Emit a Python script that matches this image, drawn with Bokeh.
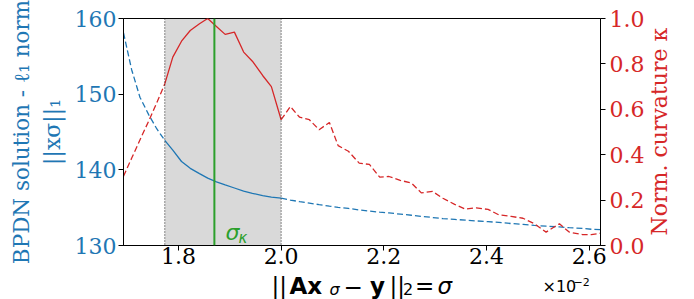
import numpy as np
from bokeh.plotting import figure
from bokeh.layouts import row, column
from bokeh.models import (Range1d, LinearAxis, FixedTicker, PrintfTickFormatter,
                          BoxAnnotation, Span, Label)
from bokeh.embed import file_html
from bokeh.resources import INLINE

# ---- data (sigma in units of 1e-2) ----
sigma = [1.693, 1.709, 1.725, 1.742, 1.758, 1.7734, 1.789, 1.806, 1.823, 1.841,
         1.857, 1.874, 1.891, 1.909, 1.927, 1.944, 1.964, 1.981, 2.000, 2.018,
         2.036, 2.055, 2.074, 2.094, 2.111, 2.131, 2.152, 2.172, 2.192, 2.210,
         2.232, 2.254, 2.273, 2.295, 2.315, 2.338, 2.359, 2.380, 2.403, 2.424,
         2.448, 2.471, 2.493, 2.516, 2.542, 2.561, 2.587, 2.604, 2.622]
norm1 = [158.1, 153.2, 149.6, 147.3, 145.4, 143.9, 142.6, 141.1, 140.2, 139.5,
         138.9, 138.4, 138.0, 137.6, 137.2, 136.9, 136.6, 136.4, 136.25, 136.0,
         135.8, 135.6, 135.4, 135.2, 135.05, 134.9, 134.7, 134.55, 134.4, 134.3,
         134.15, 134.0, 133.85, 133.7, 133.55, 133.45, 133.35, 133.25, 133.15, 133.05,
         132.9, 132.8, 132.65, 132.55, 132.45, 132.35, 132.25, 132.15, 132.1]
kappa = [0.305, 0.385, 0.465, 0.548, 0.630, 0.712, 0.830, 0.900, 0.947, 0.977,
         1.000, 0.965, 0.930, 0.940, 0.852, 0.812, 0.749, 0.700, 0.554, 0.612,
         0.565, 0.554, 0.510, 0.542, 0.440, 0.415, 0.363, 0.357, 0.301, 0.304,
         0.287, 0.275, 0.232, 0.238, 0.208, 0.181, 0.160, 0.166, 0.159, 0.135,
         0.128, 0.120, 0.096, 0.059, 0.096, 0.059, 0.048, 0.048, 0.054]
region = [1.7734, 2.000]
sigma_k = 1.87
x_ticks = [1.8, 2.0, 2.2, 2.4, 2.6]
left_ticks = [130, 140, 150, 160]
right_ticks = [0.0, 0.2, 0.4, 0.6, 0.8, 1.0]
left_range = [130, 160]
right_range = [0.0, 1.0]

BLUE = "#1f77b4"
RED = "#d62728"
GREEN = "#2ca02c"
SERIF = "DejaVu Serif"

W_MAIN, W_RIGHT = 647, 47
H_MAIN, H_BOTTOM = 273, 26

# ---------------- main plot ----------------
p = figure(width=W_MAIN, height=H_MAIN, title=None,
           x_range=Range1d(sigma[0], sigma[-1]),
           y_range=Range1d(left_range[0], left_range[1]),
           output_backend="svg", toolbar_location=None,
           min_border_left=123, min_border_right=46,
           min_border_top=18, min_border_bottom=28)
p.extra_y_ranges = {"kappa": Range1d(right_range[0], right_range[1])}
p.grid.visible = False
p.outline_line_color = "black"
p.outline_line_width = 1
p.background_fill_color = "white"
p.border_fill_color = "white"

right_axis = LinearAxis(y_range_name="kappa")
p.add_layout(right_axis, "right")

p.xaxis.ticker = FixedTicker(ticks=x_ticks)
p.xaxis.formatter = PrintfTickFormatter(format="%.1f")
p.yaxis[0].ticker = FixedTicker(ticks=left_ticks)
right_axis.ticker = FixedTicker(ticks=right_ticks)
right_axis.formatter = PrintfTickFormatter(format="%.1f")

for ax in [p.xaxis[0], p.yaxis[0], right_axis]:
    ax.major_tick_in = 0
    ax.major_tick_out = 5
    ax.minor_tick_line_color = None
    ax.axis_line_color = "black"
    ax.major_tick_line_color = "black"
    ax.major_label_text_font = SERIF
    ax.major_label_text_font_size = "22px"
p.xaxis[0].major_label_standoff = -3
p.xaxis[0].major_label_text_color = "black"
p.yaxis[0].major_label_standoff = 2
p.yaxis[0].major_label_text_color = BLUE
right_axis.major_label_standoff = 4
right_axis.major_label_text_color = RED

# left axis titles: inner line on the tick axis, outer line on a bare axis
p.yaxis[0].axis_label = "||xσ||₁"
p.yaxis[0].axis_label_text_font = SERIF
p.yaxis[0].axis_label_text_font_size = "22px"
p.yaxis[0].axis_label_text_font_style = "normal"
p.yaxis[0].axis_label_text_color = BLUE
p.yaxis[0].axis_label_standoff = 7

outer = LinearAxis(ticker=FixedTicker(ticks=[]), axis_line_color=None,
                   major_tick_line_color=None, minor_tick_line_color=None,
                   major_tick_in=0, major_tick_out=0, major_label_standoff=0,
                   axis_label="BPDN solution - ℓ₁ norm", axis_label_standoff=3,
                   axis_label_text_font=SERIF, axis_label_text_font_size="21.5px",
                   axis_label_text_font_style="normal", axis_label_text_color=BLUE)
p.add_layout(outer, "left")

# shaded region
p.add_layout(BoxAnnotation(left=region[0], right=region[1], fill_color="gray",
                           fill_alpha=0.3, line_alpha=0, level="underlay"))
for r in region:
    p.add_layout(Span(location=r, dimension="height", line_color="#222222",
                      line_width=1, line_dash="1 2"))

s = np.array(sigma)
n = np.array(norm1)
k = np.array(kappa)
before = s <= region[0]
inside = (s >= region[0]) & (s <= region[1])
after = s >= region[1]
segs = [(before, "6 3"), (inside, "solid"), (after, "6 3")]
for mask, dash in segs:
    p.line(s[mask], n[mask], line_color=BLUE, line_width=1.3, line_dash=dash)
for mask, dash in segs:
    p.line(s[mask], k[mask], y_range_name="kappa", line_color=RED,
           line_width=1.3, line_dash=dash)

p.add_layout(Span(location=sigma_k, dimension="height", line_color=GREEN,
                  line_width=2))

# sigma_kappa marker text
for txt, dx, dy, sz in [("σ", 11, 12.7, 22), ("κ", 24, 7.8, 15)]:
    p.add_layout(Label(x=sigma_k, y=left_range[0], x_offset=dx, y_offset=dy,
                       text=txt, text_font="DejaVu Sans", text_font_style="italic",
                       text_font_size=f"{sz}px", text_color=GREEN,
                       text_align="left", text_baseline="alphabetic"))


# ---------------- label strips ----------------
def strip(w, h):
    f = figure(width=w, height=h, x_range=Range1d(0, w), y_range=Range1d(0, h),
               title=None, output_backend="svg", toolbar_location=None,
               x_axis_location=None, y_axis_location=None,
               min_border=0, min_border_left=0, min_border_right=0,
               min_border_top=0, min_border_bottom=0)
    f.grid.visible = False
    f.outline_line_color = None
    f.background_fill_color = "white"
    f.border_fill_color = "white"
    return f


def put(f, text, x, y, size, font="DejaVu Sans", style="normal", color="black",
        angle=0.0, align="left"):
    f.add_layout(Label(x=x, y=y, text=text, text_font=font,
                       text_font_size=f"{size}px", text_font_style=style,
                       text_color=color, angle=angle, text_align=align,
                       text_baseline="alphabetic"))


# right strip: "Norm. curvature kappa"
fr = strip(W_RIGHT, H_MAIN)
put(fr, "Norm. curvature κ", 12, 137, 22, font=SERIF, color=RED,
    angle=np.pi / 2, align="center")

# bottom strip: ||A x_sigma - y||_2 = sigma   and  x10^-2
W_ALL = W_MAIN + W_RIGHT
fb = strip(W_ALL, H_BOTTOM)
yb = 13.5
put(fb, "||", 271, yb, 23)
put(fb, "Ax", 289, yb, 23, style="bold")
put(fb, "σ", 329, 10, 16, style="italic")
put(fb, "−", 343, yb, 23)
put(fb, "y", 369.5, yb, 23, style="bold")
put(fb, "||", 389, yb, 23)
put(fb, "2", 402.5, 10.5, 16)
put(fb, "=", 414.5, yb, 23)
put(fb, "σ", 437, yb, 23, style="italic")
put(fb, "×10", 542, 13, 16)
put(fb, "−2", 573, 17.9, 11)

layout = column(row(p, fr), fb)
open("out.html", "w").write(file_html(layout, INLINE))
